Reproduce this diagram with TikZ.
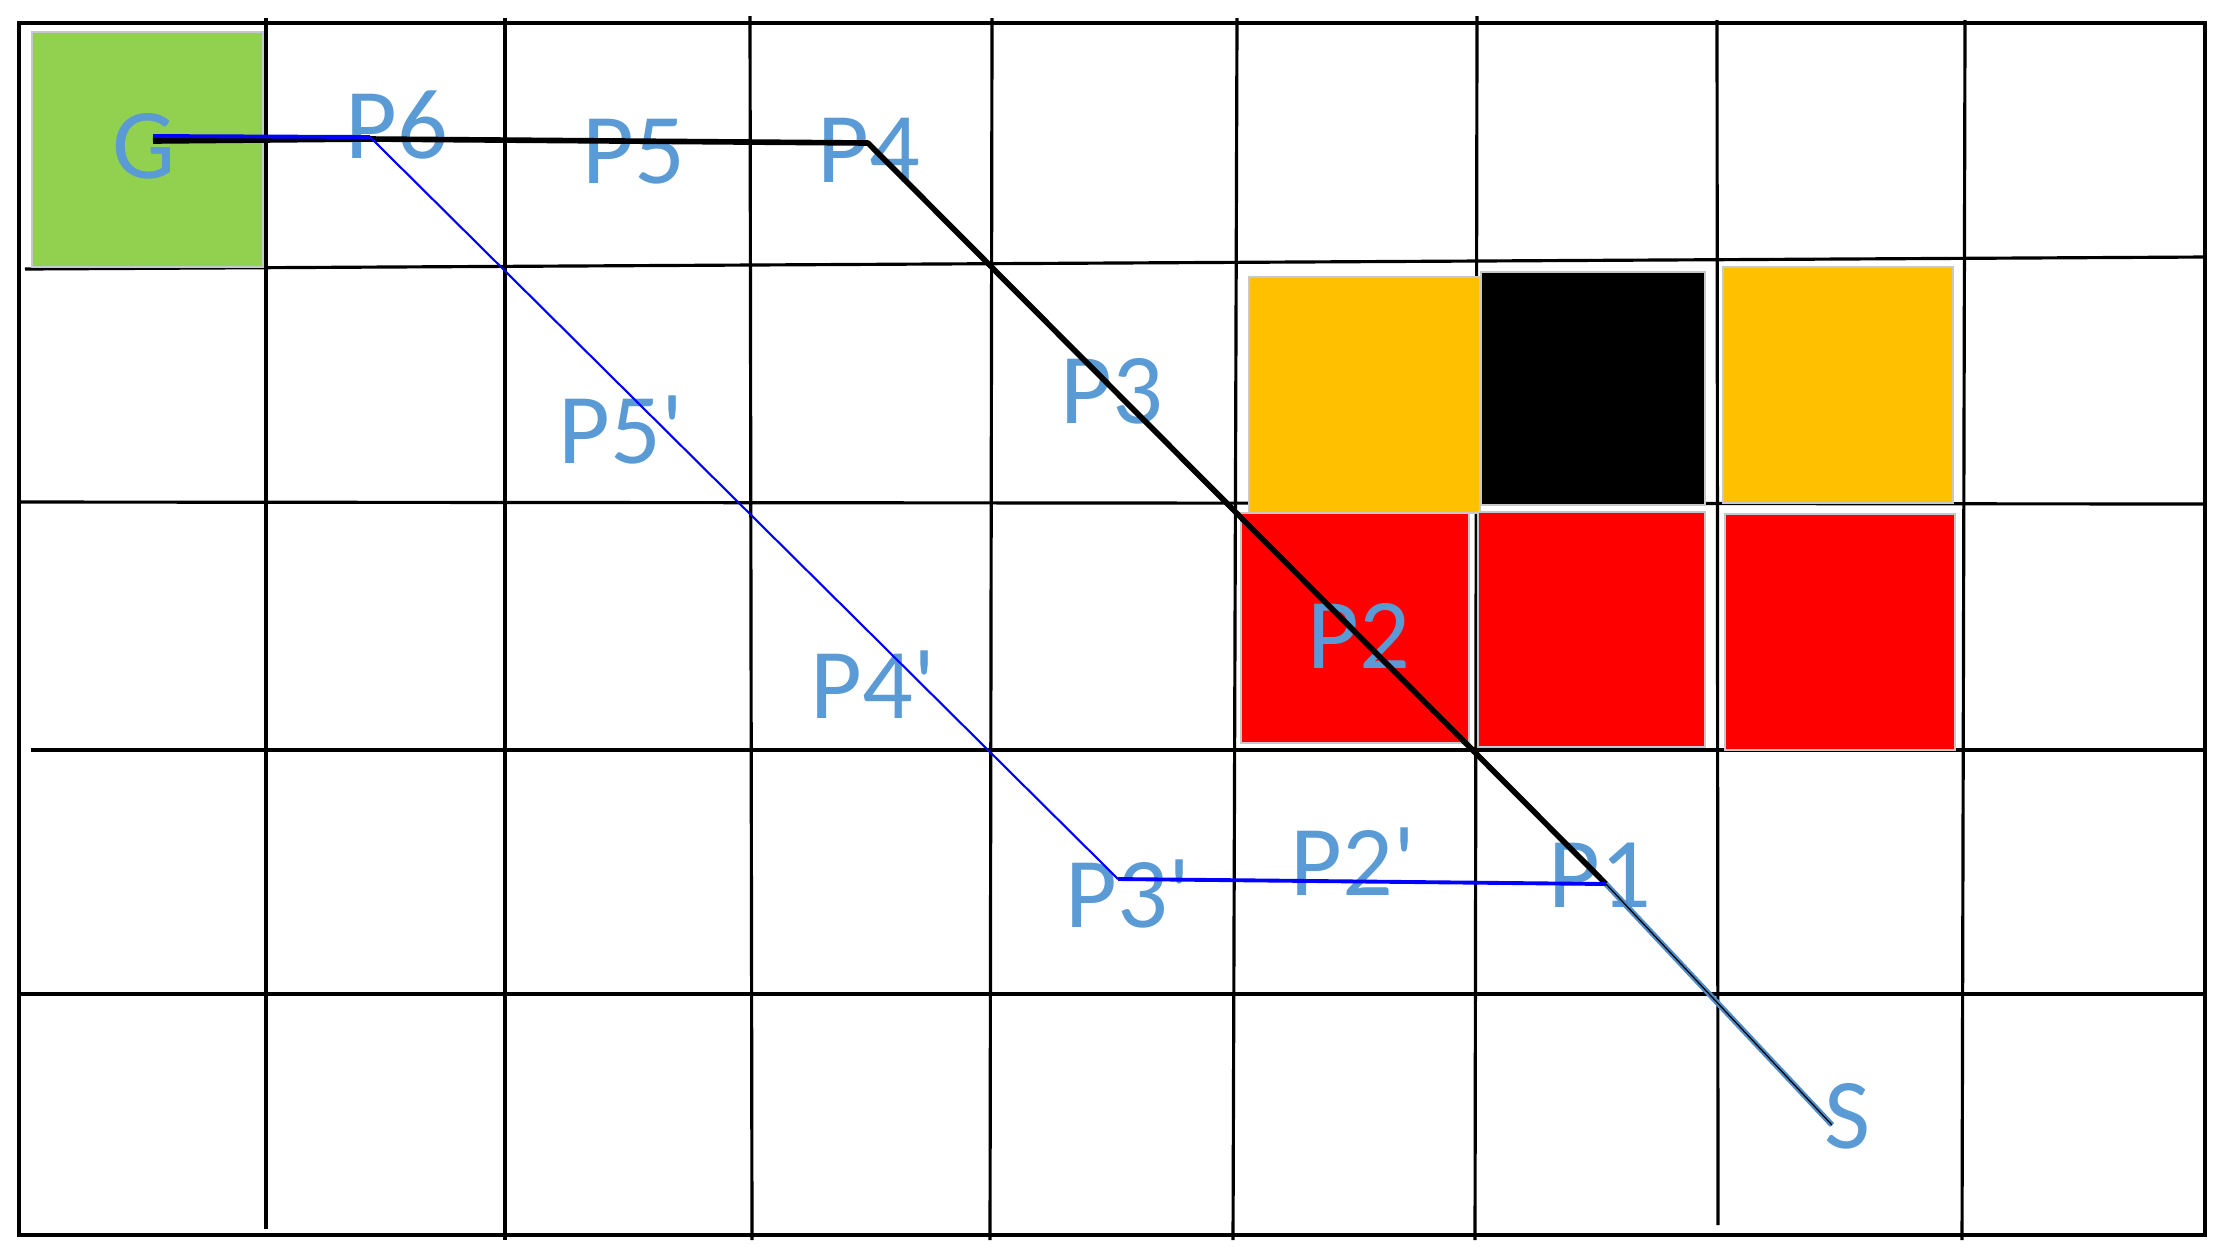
\documentclass[tikz,border=0pt]{standalone}
\usepackage{fontspec}
\setmainfont{Carlito}
\definecolor{lbl}{RGB}{91,155,213}
\definecolor{cellline}{RGB}{200,200,200}
\definecolor{goalgreen}{RGB}{146,208,80}
\definecolor{warnorange}{RGB}{255,192,0}
\definecolor{hotred}{RGB}{255,0,0}
\definecolor{tailblue}{RGB}{80,140,200}
\begin{document}
\begin{tikzpicture}[x=0.01cm,y=-0.01cm,
  gridline/.style={line width=0.9pt, black},
  borderline/.style={line width=1.15pt, black},
  cell/.style={draw=cellline, line width=0.6pt},
  lab/.style={text=lbl, font=\fontsize{28.5}{30}\selectfont, inner sep=0pt, anchor=base west},
  route/.style={line width=1.6pt, black, line join=round},
  altroute/.style={line width=0.6pt, blue, line join=round},
  altthick/.style={line width=1.1pt, blue},
  tailglow/.style={line width=1.6pt, tailblue},
  tailcore/.style={line width=0.35pt, black}]
\fill[white] (0,0) rectangle (2231,1247);
\useasboundingbox (0,0) rectangle (2231,1247);

% grid: vertical lines
\draw[gridline] (266,18) -- (266,1229);
\draw[gridline] (505,18) -- (505,1240);
\draw[gridline] (750,16) -- (752,1240);
\draw[gridline] (992,18) -- (990,1240);
\draw[gridline] (1237,18) -- (1233,1240);
\draw[gridline] (1477,16) -- (1475,1240);
\draw[gridline] (1717,20) -- (1718,1225);
\draw[gridline] (1965,20) -- (1962,1240);
% grid: horizontal lines
\draw[gridline] (25,269) -- (2205,257);
\draw[gridline] (19,502) -- (2205,504);
\draw[gridline] (31,750) -- (2205,750);
\draw[gridline] (19,994) -- (2205,994);
% outer border
\draw[borderline] (19,23) -- (2205,23) -- (2205,1235) -- (19,1235) -- cycle;

% coloured cells
\filldraw[cell, fill=goalgreen] (32,32) rectangle (263,267);
\filldraw[cell, fill=warnorange] (1249,277) rectangle (1480,513);
\filldraw[cell, fill=black] (1481,272) rectangle (1705,505);
\filldraw[cell, fill=warnorange] (1723,267) rectangle (1953,503);
\filldraw[cell, fill=hotred] (1241,513) rectangle (1469,743);
\filldraw[cell, fill=hotred] (1478,512) rectangle (1705,747);
\filldraw[cell, fill=hotred] (1725,514) rectangle (1955,750);

% labels
\node[lab] (lG)   at (112,178) {G};
\node[lab] (lP6)  at (345,158) {P6};
\node[lab] (lP5)  at (582,183) {P5};
\node[lab] (lP4)  at (817,182) {P4};
\node[lab] (lP3)  at (1060,423) {P3};
\node[lab] (lP5b) at (558,463) {P5\textquotesingle};
\node[lab] (lP2)  at (1307,668) {P2};
\node[lab] (lP4b) at (810,718) {P4\textquotesingle};
\node[lab] (lP3b) at (1065,927) {P3\textquotesingle};
\node[lab] (lP2b) at (1290,895) {P2\textquotesingle};
\node[lab] (lP1)  at (1548,907) {P1};
\node[lab] (lS)   at (1824,1148) {S};

% path vertices
\coordinate (G)   at (153,141);
\coordinate (Gb)  at (153,136);
\coordinate (P6)  at (370,139);
\coordinate (P6b) at (370,137);
\coordinate (P4)  at (868,143);
\coordinate (P3b) at (1118,879);
\coordinate (P1)  at (1606,884);
\coordinate (S)   at (1832,1125);

% black route
\draw[route] (G) -- (P6) -- (P4) -- (P1);
% tail P1 -> S
\draw[tailglow] (P1) -- (S);
\draw[tailcore] (P1) -- (S);
% blue alternative route
\draw[altthick] (Gb) -- (P6b);
\draw[altroute] (P6b) -- (P3b);
\draw[altthick] (P3b) -- (P1);
\end{tikzpicture}
\end{document}
